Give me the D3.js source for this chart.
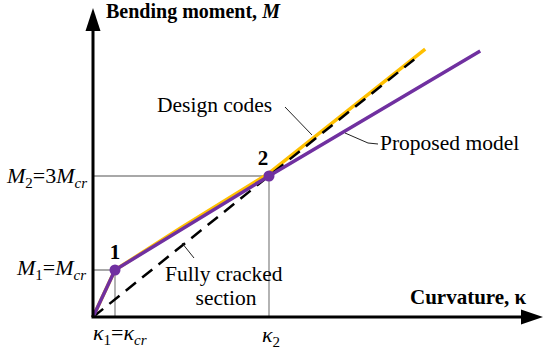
<!DOCTYPE html>
<html>
<head>
<meta charset="utf-8">
<script src="https://cdn.jsdelivr.net/npm/d3@7"></script>
<style>
  body { margin: 0; background: #fff; }
  svg text { font-family: "Liberation Serif", "Times New Roman", serif; fill: #000; }
</style>
</head>
<body>
<svg width="550" height="349"></svg>
<script>
// curves, in units of kappa_cr and M_cr
var proposedK = [0, 1, 8, 17.6];
var proposedM = [0, 1, 3, 5.66];
var codesK = [0, 1, 4, 8, 15.1];
var codesM = [0, 1, 1.9, 3.06, 5.7];
var crackedK = [0, 14.6];
var crackedM = [0, 5.48];
var keyK = [1, 8];
var keyM = [1, 3];
var keyLabels = ["1", "2"];

var svg = d3.select("svg");

var x = d3.scaleLinear().domain([0, 20]).range([93, 533]);
var y = d3.scaleLinear().domain([0, 6]).range([317, 35]);

var line = d3.line()
    .x(function (d) { return x(d[0]); })
    .y(function (d) { return y(d[1]); });

function zip(a, b) {
    return a.map(function (v, i) { return [v, b[i]]; });
}

// guide lines to the key points
var guide = svg.append("g")
    .attr("stroke", "#8c8c8c")
    .attr("stroke-width", 1.3)
    .attr("fill", "none");
keyK.forEach(function (k, i) {
    guide.append("path")
        .attr("d", "M" + x(0) + "," + y(keyM[i]) + "H" + x(k) + "V" + y(0));
});

// curves
svg.append("path")
    .datum(zip(codesK, codesM))
    .attr("fill", "none")
    .attr("stroke", "#ffc000")
    .attr("stroke-width", 3.5)
    .attr("stroke-linejoin", "round")
    .attr("d", line);

svg.append("path")
    .datum(zip(crackedK, crackedM))
    .attr("fill", "none")
    .attr("stroke", "#000")
    .attr("stroke-width", 2.5)
    .attr("stroke-dasharray", "13,8")
    .attr("d", line);

svg.append("path")
    .datum(zip(proposedK, proposedM))
    .attr("fill", "none")
    .attr("stroke", "#7030a0")
    .attr("stroke-width", 3.5)
    .attr("stroke-linejoin", "round")
    .attr("d", line);

svg.selectAll("circle.key")
    .data(keyK)
    .enter().append("circle")
    .attr("class", "key")
    .attr("cx", function (d) { return x(d); })
    .attr("cy", function (d, i) { return y(keyM[i]); })
    .attr("r", 5.5)
    .attr("fill", "#7030a0");

svg.selectAll("text.key")
    .data(keyLabels)
    .enter().append("text")
    .attr("class", "key")
    .attr("x", function (d, i) { return x(keyK[i]) + (i == 0 ? 0 : -6); })
    .attr("y", function (d, i) { return y(keyM[i]) - 11; })
    .attr("text-anchor", "middle")
    .attr("font-size", 21)
    .attr("font-weight", "bold")
    .text(function (d) { return d; });

// axes with arrow heads
svg.append("path")
    .attr("d", "M" + x(0) + "," + y(0) + "V28")
    .attr("stroke", "#000").attr("stroke-width", 3);
svg.append("path")
    .attr("d", "M" + (x(0) - 1.5) + "," + y(0) + "H523")
    .attr("stroke", "#000").attr("stroke-width", 3);
svg.append("path")
    .attr("d", "M" + x(0) + ",8L" + (x(0) - 7.5) + ",31L" + (x(0) + 7.5) + ",31Z");
svg.append("path")
    .attr("d", "M543," + y(0) + "L521," + (y(0) - 7.5) + "L521," + (y(0) + 7.5) + "Z");

// axis titles
var ty = svg.append("text").attr("x", 106).attr("y", 18)
    .attr("font-size", 20).attr("font-weight", "bold");
ty.append("tspan").text("Bending moment, ");
ty.append("tspan").attr("font-style", "italic").text("M");

svg.append("text").attr("x", 410).attr("y", 304)
    .attr("font-size", 21).attr("font-weight", "bold")
    .text("Curvature, κ");

// tick labels made of italic symbols and subscripts
function mathLabel(parts, xx, yy, anchor) {
    var t = svg.append("text").attr("x", xx).attr("y", yy)
        .attr("font-size", 22).attr("text-anchor", anchor);
    parts.forEach(function (p) {
        var s = t.append("tspan").text(p[0]);
        if (p[1] == "i") s.attr("font-style", "italic");
        if (p[1] == "sub") s.attr("font-size", 15).attr("dy", 5);
        if (p[1] == "isub") s.attr("font-size", 15).attr("dy", 5).attr("font-style", "italic");
        if (p[2]) s.attr("dy", p[2]);
    });
}
mathLabel([["M", "i"], ["2", "sub"], ["=3", "", -5], ["M", "i"], ["cr", "isub"]], 87, 183, "end");
mathLabel([["M", "i"], ["1", "sub"], ["=", "", -5], ["M", "i"], ["cr", "isub"]], 86, 275, "end");
mathLabel([["κ", "i"], ["1", "sub"], ["=", "", -5], ["κ", "i"], ["cr", "isub"]], 93, 340, "start");
mathLabel([["κ", "i"], ["2", "sub"]], 262, 342, "start");

// annotations
svg.append("text").attr("x", 157).attr("y", 112).attr("font-size", 21.5).text("Design codes");
svg.append("text").attr("x", 380).attr("y", 150).attr("font-size", 21.5).text("Proposed model");
svg.append("text").attr("x", 165).attr("y", 281).attr("font-size", 21.5).text("Fully cracked");
svg.append("text").attr("x", 226).attr("y", 305).attr("font-size", 21.5)
    .attr("text-anchor", "middle").text("section");

var lead = svg.append("g").attr("stroke", "#222").attr("stroke-width", 1).attr("fill", "none");
lead.append("path").attr("d", "M285,107L312,135");
lead.append("path").attr("d", "M345,133L368,143L378,144");
lead.append("path").attr("d", "M182,243L194,258");
</script>
</body>
</html>
